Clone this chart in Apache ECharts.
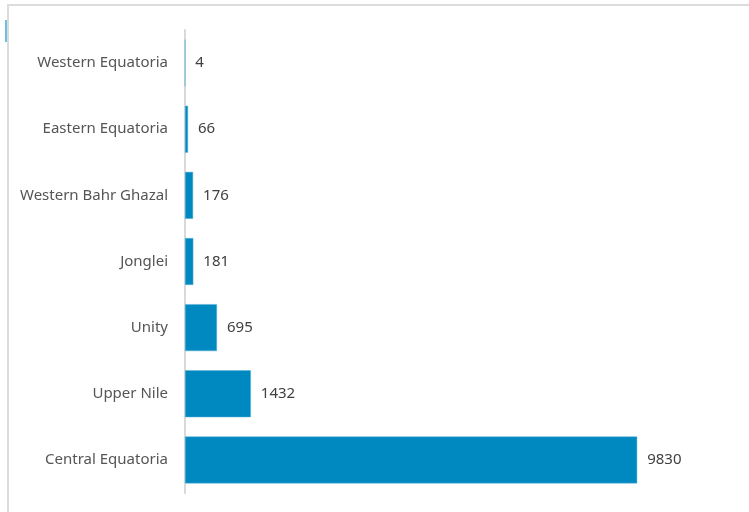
<!DOCTYPE html>
<html>
<head>
<meta charset="utf-8">
<script src="https://cdn.jsdelivr.net/npm/echarts@6/dist/echarts.min.js"></script>
<style>
  html, body { margin: 0; padding: 0; background: #fff; }
  #chart { width: 749px; height: 512px; }
</style>
</head>
<body>
<div id="chart"></div>
<script>
// 州名（自下而上）
var states = ['Central Equatoria', 'Upper Nile', 'Unity', 'Jonglei', 'Western Bahr Ghazal', 'Eastern Equatoria', 'Western Equatoria'];
// 数值
var counts = [9830, 1432, 695, 181, 176, 66, 4];

var font = '"Liberation Sans Narrow", "Noto Sans", sans-serif';

var myChart = echarts.init(document.getElementById('chart'));
myChart.setOption({
    animation: false,
    grid: { left: 185, right: 12, top: 30, bottom: 19 },
    graphic: [
        // 外框
        { type: 'rect', shape: { x: 8, y: 5, width: 760, height: 520 }, style: { fill: 'none', stroke: '#dcdcdc', lineWidth: 2 } },
        { type: 'rect', shape: { x: 5, y: 20, width: 2, height: 22 }, style: { fill: '#6cc0e0' } }
    ],
    xAxis: {
        type: 'value',
        min: 0,
        max: 12000,
        show: false
    },
    yAxis: {
        type: 'category',
        data: states,
        axisLine: { show: true, lineStyle: { color: '#d9d9d9', width: 2 } },
        axisTick: { show: false },
        axisLabel: { margin: 17, fontSize: 15, color: '#555', fontFamily: font },
        splitLine: { show: false }
    },
    series: [{
        type: 'bar',
        data: counts,
        barCategoryGap: '29%',
        itemStyle: { color: '#0088c0', borderColor: '#5ab4da', borderWidth: 0.5 },
        label: {
            show: true,
            position: 'right',
            distance: 10,
            fontSize: 15,
            color: '#404040',
            fontFamily: font
        }
    }]
});
</script>
</body>
</html>
